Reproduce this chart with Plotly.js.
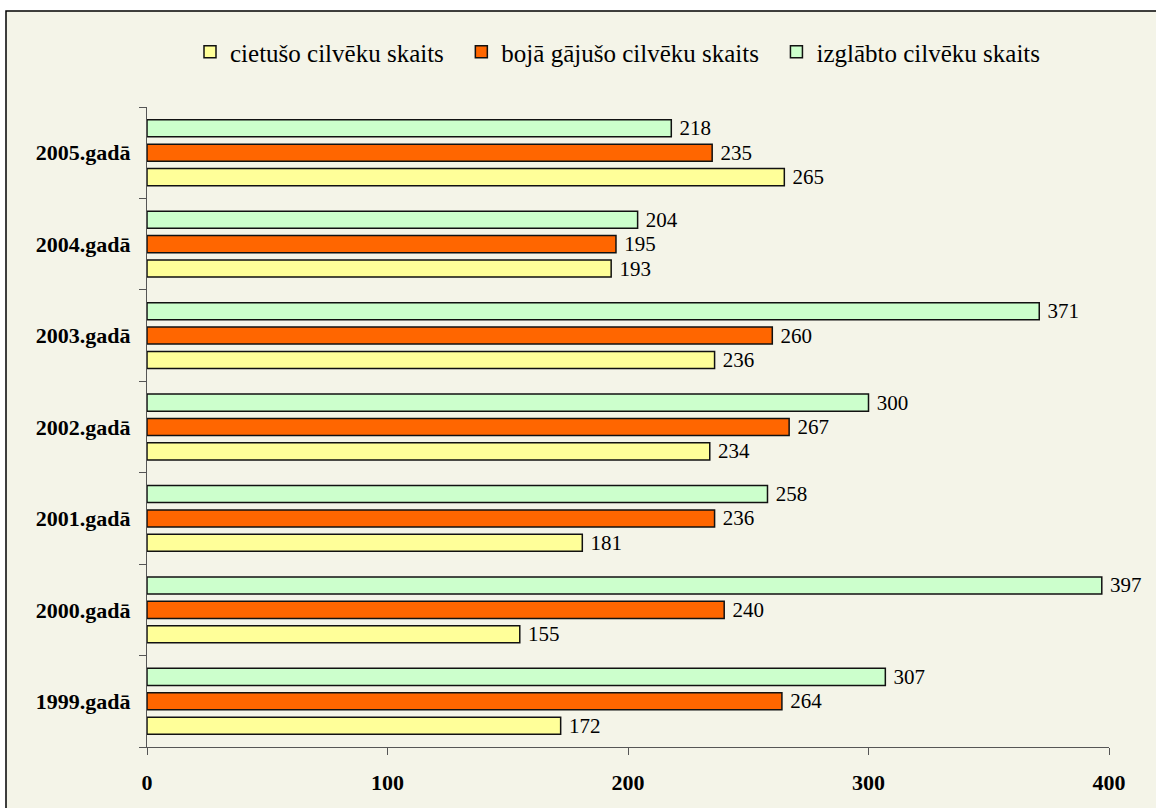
<!DOCTYPE html>
<html><head><meta charset="utf-8">
<script src="https://cdn.plot.ly/plotly-3.0.1.min.js"></script>
<style>html,body{margin:0;padding:0;background:#fff;}</style>
</head><body>
<div id="chart" style="width:1156px;height:808px;"></div>
<script>
const categories = ['1999.gadā','2000.gadā','2001.gadā','2002.gadā','2003.gadā','2004.gadā','2005.gadā'];
const cietuso = [172, 155, 181, 234, 236, 193, 265];
const bojaGajuso = [264, 240, 236, 267, 260, 195, 235];
const izglabto = [307, 397, 258, 300, 371, 204, 218];
const seriesNames = ['cietušo cilvēku skaits','bojā gājušo cilvēku skaits','izglābto cilvēku skaits'];
const xTicks = [0, 100, 200, 300, 400];

const font = "'Liberation Serif', 'Times New Roman', serif";
const legendPad = '\u00a0\u00a0';
function mk(vals, name, color){
  return {type:'bar', orientation:'h', y:categories, x:vals, name:name + legendPad,
    marker:{color:color, line:{color:'#111', width:1.5}},
    text:vals.map(String), texttemplate:' %{text}', textposition:'outside', cliponaxis:false, constraintext:'none',
    textfont:{family:font, size:21, color:'#000'}, hoverinfo:'x+y'};
}
const data = [
  mk(cietuso, seriesNames[0], '#FFFF99'),
  mk(bojaGajuso, seriesNames[1], '#FF6600'),
  mk(izglabto, seriesNames[2], '#CCFFCC')
];
const plotTop = 107, plotBottom = 747, plotLeft = 147, plotRight = 1109;
const ph = plotBottom - plotTop, pw = plotRight - plotLeft;
const layout = {
  width:1156, height:808,
  margin:{l:plotLeft, r:1156-plotRight, t:plotTop, b:808-plotBottom},
  paper_bgcolor:'#ffffff', plot_bgcolor:'rgba(0,0,0,0)',
  barmode:'group', bargap:0.2, bargroupgap:0.3,
  font:{family:font, color:'#000'},
  showlegend:true,
  legend:{orientation:'h', x:(190-plotLeft)/pw, xanchor:'left', y:1+(plotTop-52)/ph, yanchor:'middle',
    font:{family:font, size:25, color:'#000'}, bgcolor:'rgba(0,0,0,0)', traceorder:'normal', itemwidth:30},
  xaxis:{range:[0,400], tickvals:xTicks, ticktext:xTicks.map(String), ticks:'outside', ticklen:7, tickcolor:'#555',
    showline:true, linecolor:'#555', linewidth:1, showgrid:false, zeroline:false,
    tickfont:{family:font, size:22, color:'#000', weight:'bold'}, ticklabelstandoff:9, fixedrange:true},
  yaxis:{type:'category', ticks:'outside', tickson:'boundaries', ticklen:7, tickcolor:'#555',
    showline:true, linecolor:'#555', linewidth:1, showgrid:false, zeroline:false,
    tickfont:{family:font, size:22, color:'#000', weight:'bold'}, ticklabelstandoff:11, fixedrange:true},
  shapes:[{type:'rect', xref:'paper', yref:'paper', x0:(6-plotLeft)/pw, x1:1.3, y0:-0.3, y1:1+(plotTop-11)/ph,
    fillcolor:'#F4F4E8', line:{color:'#000', width:1.5}, layer:'below'}]
};
Plotly.newPlot('chart', data, layout, {displayModeBar:false, staticPlot:true});
</script>
</body></html>
